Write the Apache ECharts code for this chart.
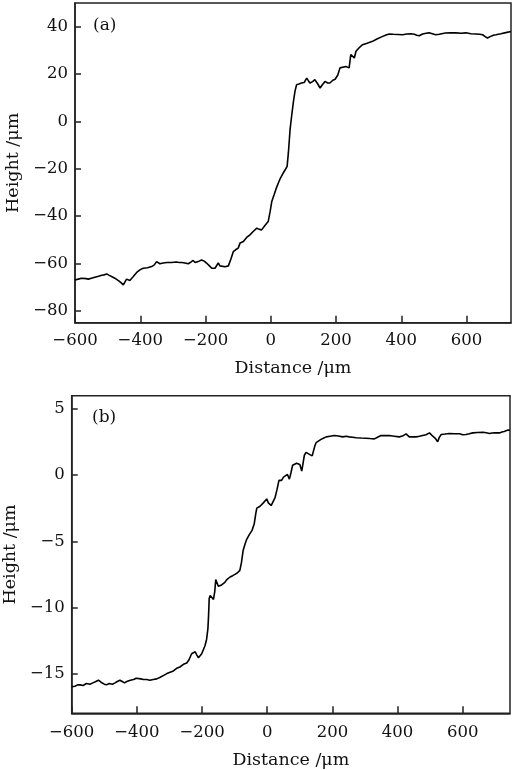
<!DOCTYPE html>
<html>
<head>
<meta charset="utf-8">
<script src="https://cdn.jsdelivr.net/npm/echarts@6/dist/echarts.min.js"></script>
<style>
html,body{margin:0;padding:0;background:#fff;}
#c{width:512px;height:770px;}
</style>
</head>
<body>
<div id="c"></div>
<script>
// ---- Data (a) ----
const distA = [-600,-590,-580,-574,-566,-559,-550,-539,-528,-518,-510,-503,-495,-488,-478,-467,-460,-452,-447,-442,-437,-432,-422,-411,-400,-391,-378,-365,-357,-350,-345,-340,-330,-318,-304,-290,-280,-273,-263,-253,-245,-238,-232,-227,-220,-212,-204,-197,-188,-181,-176,-171,-166,-161,-156,-150,-140,-130,-122,-115,-108,-100,-94,-84,-74,-64,-54,-43,-35,-28,-18,-8,-2,3,10,16,23,30,38,45,50,54,59,64,69,74,79,86,94,102,110,115,120,128,135,143,151,158,166,174,181,190,197,205,212,218,230,240,245,250,256,261,270,281,295,312,325,343,353,363,375,390,404,417,429,440,447,455,465,476,485,495,505,511,516,521,535,550,567,583,598,613,628,640,649,657,664,672,682,690,705,720,736];
const heightA = [-67.0,-66.6,-66.2,-65.8,-66.4,-66.6,-66.2,-65.8,-65.4,-65.0,-64.8,-64.4,-65.0,-65.5,-66.2,-67.2,-68.0,-69.0,-68.2,-66.6,-67.4,-67.2,-65.6,-63.8,-62.6,-62.0,-61.8,-61.3,-60.6,-59.2,-59.8,-60.1,-59.8,-59.6,-59.6,-59.4,-59.6,-59.6,-59.8,-60.1,-59.4,-58.7,-59.6,-59.8,-59.0,-58.5,-59.0,-59.8,-61.0,-62.0,-62.3,-62.0,-61.2,-59.8,-61.0,-61.5,-61.4,-61.0,-58.0,-55.0,-54.2,-53.5,-51.3,-50.7,-49.0,-47.9,-46.5,-45.1,-45.6,-45.8,-44.0,-42.3,-38.0,-33.8,-31.0,-28.5,-26.0,-23.8,-21.8,-20.2,-19.0,-13.0,-3.5,2.5,8.0,12.7,15.5,15.8,16.2,16.4,18.3,17.2,16.2,16.8,17.6,16.0,14.1,15.5,16.9,16.2,16.2,17.4,17.8,19.5,22.6,23.4,23.2,22.6,28.2,27.6,26.8,29.6,31.0,32.4,33.0,33.8,34.8,35.9,36.5,36.9,36.8,36.7,36.6,36.9,37.0,36.8,36.4,36.2,36.9,37.2,37.4,37.0,36.6,35.9,36.8,37.4,37.3,37.4,37.4,37.2,37.4,37.0,36.9,36.8,36.6,35.8,35.2,35.8,36.4,36.6,37.0,37.5,38.0];

// ---- Data (b) ----
const distB = [-600,-590,-582,-574,-565,-555,-544,-535,-526,-518,-510,-500,-493,-485,-475,-467,-460,-452,-445,-438,-431,-420,-410,-402,-396,-388,-380,-370,-360,-350,-339,-330,-319,-308,-298,-288,-278,-268,-257,-247,-240,-232,-226,-221,-216,-211,-206,-201,-196,-191,-186,-182,-180,-178,-175,-170,-165,-161,-158,-155,-150,-145,-140,-135,-130,-124,-119,-114,-106,-99,-92,-84,-79,-74,-68,-63,-55,-47,-40,-35,-32,-27,-22,-17,-12,-6,-1.5,3.5,8,12,18,24,30,36,39,44,50,56,62,68,73,78,84,90,95,100,106,110,114,119,125,131,138,142,146,150,156,165,172,181,193,206,218,232,242,252,262,273,288,303,315,329,340,349,362,375,390,405,415,426,431,436,447,457,467,477,487,498,503,508,515,523,528,534,546,559,575,590,600,610,620,631,645,662,672,682,690,697,705,713,720,727,733,739,745];
const heightB = [-16.0,-15.95,-15.85,-15.85,-15.9,-15.75,-15.8,-15.7,-15.6,-15.5,-15.65,-15.8,-15.85,-15.75,-15.8,-15.7,-15.6,-15.5,-15.6,-15.7,-15.6,-15.5,-15.45,-15.35,-15.3,-15.4,-15.45,-15.45,-15.5,-15.45,-15.4,-15.3,-15.15,-15.0,-14.9,-14.8,-14.6,-14.5,-14.3,-14.2,-13.95,-13.5,-13.35,-13.35,-13.6,-13.8,-13.7,-13.5,-13.2,-12.9,-12.4,-11.6,-10.6,-9.3,-9.1,-9.2,-9.4,-8.8,-7.9,-8.0,-8.4,-8.5,-8.3,-8.4,-8.1,-7.9,-7.8,-7.7,-7.6,-7.5,-7.4,-7.2,-6.6,-5.7,-5.2,-4.85,-4.5,-4.2,-3.7,-2.9,-2.5,-2.45,-2.35,-2.2,-2.1,-1.95,-1.8,-2.1,-2.0,-2.3,-2.0,-1.7,-1.1,-0.4,-0.3,-0.4,-0.15,-0.1,0.05,-0.3,0.2,0.75,0.7,0.9,1.05,0.8,0.3,0.9,1.5,1.72,1.6,1.55,1.45,1.5,2.2,2.45,2.6,2.7,2.78,2.89,2.94,2.99,2.95,2.89,2.93,2.89,2.86,2.82,2.8,2.79,2.76,2.74,2.88,2.99,2.98,2.99,2.94,2.89,2.95,3.12,3.0,2.89,2.9,2.89,2.93,2.99,3.05,3.19,3.05,2.94,2.8,2.52,2.85,3.07,3.1,3.14,3.12,3.12,3.05,3.07,3.12,3.19,3.22,3.24,3.2,3.14,3.18,3.19,3.2,3.19,3.25,3.3,3.39,3.4,3.39];

// ---- Ticks ----
const xTicks = [-600,-400,-200,0,200,400,600];
const yTicksA = [-80,-60,-40,-20,0,20,40];
const yTicksB = [-15,-10,-5,0,5];

const FONT = 'DejaVu Serif';
const AX = '#222';
const fmt = v => String(v).replace('-', '\u2212');

function xAxisCfg(gi, max, margin, gap) {
  return {
    type:'value', gridIndex:gi, min:-600, max:max,
    name:'Distance /\u03bcm', nameLocation:'middle', nameGap:gap,
    nameTextStyle:{fontFamily:FONT,fontSize:17.5,color:'#111'},
    axisLine:{show:true,onZero:false,lineStyle:{color:AX,width:1.5}},
    axisTick:{show:true,inside:true,length:7,customValues:xTicks,lineStyle:{color:AX,width:1.5}},
    axisLabel:{customValues:xTicks,formatter:fmt,fontFamily:FONT,fontSize:16.5,color:'#111',margin:margin},
    splitLine:{show:false}
  };
}
function yAxisCfg(gi, min, max, ticks, gap) {
  return {
    type:'value', gridIndex:gi, min:min, max:max,
    name:'Height /\u03bcm', nameLocation:'middle', nameGap:gap, nameRotate:90,
    nameTextStyle:{fontFamily:FONT,fontSize:17.5,color:'#111'},
    axisLine:{show:true,onZero:false,lineStyle:{color:AX,width:1.5}},
    axisTick:{show:true,inside:true,length:6,customValues:ticks,lineStyle:{color:AX,width:1.5}},
    axisLabel:{customValues:ticks,formatter:fmt,fontFamily:FONT,fontSize:16.5,color:'#111',margin:7},
    splitLine:{show:false}
  };
}

const chart = echarts.init(document.getElementById('c'), null, {renderer:'canvas'});
chart.setOption({
  animation:false,
  backgroundColor:'#fff',
  title:[
    {text:'(a)',left:93,top:17,textStyle:{fontFamily:FONT,fontSize:17,fontWeight:'normal',color:'#111'},padding:0},
    {text:'(b)',left:92,top:409,textStyle:{fontFamily:FONT,fontSize:17,fontWeight:'normal',color:'#111'},padding:0}
  ],
  grid:[
    {left:75,top:3,width:436,height:319.7,show:true,borderColor:AX,borderWidth:1.5,containLabel:false,outerBoundsMode:'none'},
    {left:71.7,top:395.7,width:438.3,height:317.6,show:true,borderColor:AX,borderWidth:1.5,containLabel:false,outerBoundsMode:'none'}
  ],
  xAxis:[xAxisCfg(0,736,10,37), xAxisCfg(1,745,11,38)],
  yAxis:[yAxisCfg(0,-85,50,yTicksA,47), yAxisCfg(1,-18,6,yTicksB,44)],
  series:[
    {type:'line',xAxisIndex:0,yAxisIndex:0,data:distA.map((d,i)=>[d,heightA[i]]),showSymbol:false,symbol:'none',lineStyle:{color:'#000',width:1.6},smooth:false},
    {type:'line',xAxisIndex:1,yAxisIndex:1,data:distB.map((d,i)=>[d,heightB[i]]),showSymbol:false,symbol:'none',lineStyle:{color:'#000',width:1.6},smooth:false}
  ]
});
</script>
</body>
</html>
